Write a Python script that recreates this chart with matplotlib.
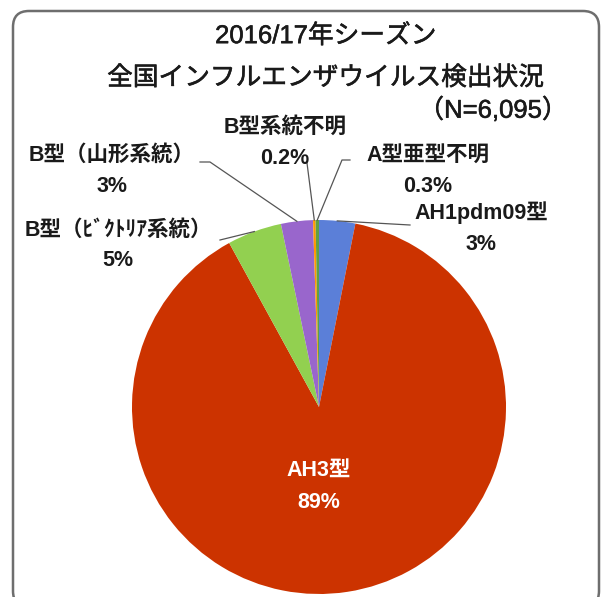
import numpy as np
import matplotlib
matplotlib.use('Agg')
import matplotlib.pyplot as plt
import matplotlib.patheffects as pe
from matplotlib.patches import FancyBboxPatch

plt.rcParams['font.family'] = ['Liberation Sans', 'Noto Sans CJK JP', 'DejaVu Sans']

# data (N=6,095)
labels = ['AH1pdm09型', 'AH3型', 'B型（ﾋﾞｸﾄﾘｱ系統）', 'B型（山形系統）', 'B型系統不明', 'A型亜型不明']
counts = [190, 5419, 287, 168, 13, 18]
colors = ['#5B7FD8', '#CC3300', '#92D050', '#9966CC', '#FF9900', '#5FA044']
total = sum(counts)

W, H = 605, 597
fig = plt.figure(figsize=(W / 100, H / 100), dpi=100)
ax = fig.add_axes([0, 0, 1, 1])

# rounded frame
frame = FancyBboxPatch((13, -10), 586, 596, boxstyle='round,pad=0,rounding_size=16',
                       fc='white', ec='#6E6E6E', lw=1.8, zorder=0)
ax.add_patch(frame)

cx, cy, r = 319, H - 407, 187
wedges, _ = ax.pie(counts, colors=colors, startangle=90, counterclock=False,
                   center=(cx, cy), radius=r, frame=True,
                   wedgeprops=dict(linewidth=0))
ax.set_xlim(0, W)
ax.set_ylim(0, H)
ax.set_aspect('equal')
ax.axis('off')

def pct_text(c):
    p = 100.0 * c / total
    return '%.1f%%' % p if p < 1 else '%d%%' % round(p)

def edge_point(w):
    a = np.deg2rad((w.theta1 + w.theta2) / 2)
    return cx + r * np.cos(a), cy + r * np.sin(a)

fs = 15.5
tc = '#1a1a1a'
# label positions (pixel x, y of first line)
lab_pos = {
    0: (481, 213),
    2: (118, 230),
    3: (112, 155),
    4: (285, 127),
    5: (428, 155),
}
gap = 31
for i, (x, y) in lab_pos.items():
    ax.text(x, H - y, labels[i], ha='center', va='center', fontsize=fs, fontweight='bold', color=tc)
    ax.text(x, H - y - gap, pct_text(counts[i]), ha='center', va='center', fontsize=fs, fontweight='bold', color=tc)

# leader lines
lc = '#555555'
px, py = edge_point(wedges[0])
ax.plot([px, 410], [py, H - 225], color=lc, lw=0.9)
px, py = edge_point(wedges[2])
ax.plot([px, 220], [py, H - 240], color=lc, lw=0.9)
px, py = edge_point(wedges[3])
ax.plot([px, 210, 200], [py, H - 162, H - 162], color=lc, lw=0.9)
px, py = edge_point(wedges[4])
ax.plot([px, 307], [py, H - 163], color=lc, lw=0.9)
px, py = edge_point(wedges[5])
ax.plot([px, 342, 350], [py, H - 160, H - 160], color=lc, lw=0.9)

# AH3 label inside
ax.text(cx, H - 470, labels[1], ha='center', va='center', fontsize=fs, fontweight='bold', color='white')
ax.text(cx, H - 503, pct_text(counts[1]), ha='center', va='center', fontsize=fs, fontweight='bold', color='white')

# title
thick = [pe.withStroke(linewidth=0.4, foreground=tc)]
ax.text(326, H - 36, '2016/17年シーズン', ha='center', va='center', fontsize=18.5, color=tc, path_effects=thick)
ax.text(326, H - 78, '全国インフルエンザウイルス検出状況', ha='center', va='center', fontsize=18.5, color=tc, path_effects=thick)
ax.text(568, H - 110, '（N=6,095）', ha='right', va='center', fontsize=18.5, color=tc, path_effects=thick)

fig.savefig('out.png', dpi=100)
